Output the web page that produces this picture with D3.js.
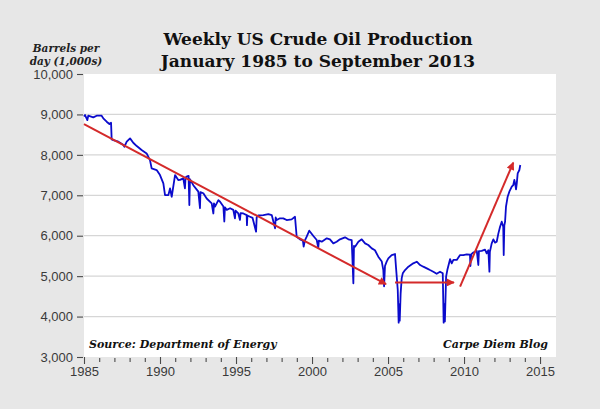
<!DOCTYPE html>
<html>
<head>
<meta charset="utf-8">
<script src="https://cdn.jsdelivr.net/npm/d3@7"></script>
<style>
	body { margin: 0; background: #e7e7e7; }
	svg { display: block; }
</style>
</head>
<body>
<div id="vis"></div>
<script>
const width = 600;
const height = 409;

// weekly production, thousand barrels per day
const weeks = [
	1985.00, 1985.07, 1985.22, 1985.28, 1985.61, 1985.83, 1986.16, 1986.27, 1986.49, 1986.67,
	1986.78, 1986.82, 1986.93, 1987.26, 1987.37, 1987.59, 1987.66, 1987.81, 1988.03, 1988.24,
	1988.47, 1988.79, 1989.12, 1989.34, 1989.45, 1989.78, 1990.00, 1990.22, 1990.33, 1990.55,
	1990.66, 1990.77, 1990.99, 1991.20, 1991.32, 1991.53, 1991.64, 1991.68, 1991.75, 1991.88,
	1991.93, 1991.97, 1992.19, 1992.52, 1992.63, 1992.66, 1992.85, 1993.07, 1993.40, 1993.51,
	1993.55, 1993.62, 1993.84, 1993.95, 1994.17, 1994.23, 1994.27, 1994.39, 1994.61, 1994.82,
	1994.93, 1994.97, 1995.15, 1995.26, 1995.30, 1995.48, 1995.70, 1995.72, 1995.75, 1995.92,
	1996.09, 1996.32, 1996.36, 1996.47, 1996.80, 1997.13, 1997.35, 1997.57, 1997.61, 1997.68,
	1997.89, 1998.11, 1998.33, 1998.66, 1998.88, 1998.99, 1999.21, 1999.40, 1999.45, 1999.54,
	1999.65, 1999.82, 2000.09, 2000.31, 2000.41, 2000.45, 2000.64, 2000.97, 2001.18, 2001.40,
	2001.62, 2001.84, 2002.17, 2002.39, 2002.61, 2002.72, 2002.76, 2002.83, 2003.05, 2003.27,
	2003.49, 2003.70, 2003.93, 2004.14, 2004.36, 2004.59, 2004.69, 2004.74, 2004.80, 2004.91,
	2005.02, 2005.24, 2005.46, 2005.53, 2005.64, 2005.70, 2005.74, 2005.77, 2005.83, 2005.90,
	2005.97, 2006.12, 2006.34, 2006.66, 2006.89, 2007.11, 2007.32, 2007.55, 2007.76, 2007.98,
	2008.20, 2008.42, 2008.60, 2008.66, 2008.70, 2008.74, 2008.82, 2008.90, 2009.08, 2009.19,
	2009.30, 2009.52, 2009.74, 2009.95, 2010.18, 2010.39, 2010.42, 2010.47, 2010.61, 2010.84,
	2010.94, 2010.98, 2011.16, 2011.38, 2011.49, 2011.60, 2011.67, 2011.70, 2011.82, 2011.93,
	2012.04, 2012.15, 2012.26, 2012.37, 2012.48, 2012.58, 2012.61, 2012.65, 2012.70, 2012.76,
	2012.87, 2012.98, 2013.14, 2013.24, 2013.31, 2013.38, 2013.42, 2013.47, 2013.53, 2013.64,
	2013.70
];
const production = [
	8950, 8985, 8860, 8968, 8927, 8968, 8968, 8902, 8820, 8762,
	8795, 8383, 8366, 8325, 8300, 8243, 8201, 8325, 8407, 8300,
	8218, 8119, 8036, 7871, 7665, 7624, 7500, 7294, 7005, 7005,
	7170, 6964, 7500, 7378, 7380, 7419, 7170, 7440, 7460, 7480,
	6760, 7400, 7250, 7090, 6680, 7080, 7050, 6920, 6800, 6550,
	6800, 6720, 6880, 6840, 6720, 6350, 6700, 6640, 6680, 6640,
	6430, 6620, 6550, 6390, 6560, 6550, 6510, 6260, 6500, 6470,
	6440, 6100, 6460, 6500, 6510, 6536, 6512, 6183, 6450, 6388,
	6430, 6430, 6388, 6405, 6470, 5975, 5910, 5880, 5730, 5890,
	5975, 6124, 5992, 5893, 5700, 5880, 5852, 5935, 5910, 5811,
	5852, 5910, 5960, 5910, 5893, 4822, 5750, 5728, 5852, 5910,
	5811, 5770, 5687, 5640, 5481, 5360, 5151, 4750, 5250, 5360,
	5440, 5522, 5547, 5193, 4657, 3850, 4300, 3900, 4575, 4950,
	5069, 5151, 5234, 5317, 5357, 5275, 5234, 5193, 5151, 5110,
	5060, 5110, 5069, 3850, 4300, 3880, 4987, 5151, 5420, 5317,
	5400, 5400, 5522, 5520, 5540, 5530, 5250, 5540, 5585, 5625,
	5275, 5620, 5625, 5655, 5564, 5640, 5110, 5600, 5811, 5910,
	5830, 5852, 6058, 6220, 6347, 6223, 5522, 6250, 6347, 6718,
	6965, 7089, 7213, 7254, 7378, 7254, 7147, 7295, 7543, 7625,
	7749
];

// red trend arrows: [start year, start value, end year, end value]
const trendArrows = [
	[1985.00, 8760, 2004.87, 4800],
	[2005.46, 4845, 2009.34, 4845],
	[2009.74, 4740, 2013.24, 7810]
];

const yTicks = [3000, 4000, 5000, 6000, 7000, 8000, 9000, 10000];
const yGrid = [4000, 5000, 6000, 7000, 8000, 9000];
const xMajorTicks = [1985, 1990, 1995, 2000, 2005, 2010, 2015];
const xMinorTicks = d3.range(1986, 2016).filter(y => y % 5 != 0);

const titleLines = ["Weekly US Crude Oil Production", "January 1985 to September 2013"];
const unitLines = ["Barrels per", "day (1,000s)"];

const x = d3.scaleLinear()
	.domain([1985, 2016.05])
	.range([84, 556]);

const y = d3.scaleLinear()
	.domain([3000, 10000])
	.range([357, 74]);

const svg = d3.select("div#vis")
	.append("svg")
		.attr("width", width)
		.attr("height", height);

svg.append("rect")
	.attr("width", width)
	.attr("height", height)
	.attr("fill", "#e7e7e7");

svg.append("rect")
	.attr("x", x.range()[0])
	.attr("y", y.range()[1])
	.attr("width", x.range()[1] - x.range()[0])
	.attr("height", y.range()[0] - y.range()[1])
	.attr("fill", "white");

svg.selectAll("line.grid")
	.data(yGrid)
	.enter()
	.append("line")
		.classed("grid", true)
		.attr("x1", x.range()[0])
		.attr("x2", x.range()[1])
		.attr("y1", d => y(d))
		.attr("y2", d => y(d))
		.attr("stroke", "#d6d6d6")
		.attr("stroke-width", 1.2);

//axes
const yAxis = svg.append("g")
	.attr("transform", `translate(${x.range()[0] - 1},0)`)
	.call(d3.axisLeft(y)
		.tickValues(yTicks)
		.tickSize(6)
		.tickPadding(4)
		.tickFormat(d3.format(",")));

const xMinor = svg.append("g")
	.attr("transform", `translate(0,${y.range()[0] + 1})`)
	.call(d3.axisBottom(x)
		.tickValues(xMinorTicks)
		.tickSize(4)
		.tickFormat(""));

const xAxis = svg.append("g")
	.attr("transform", `translate(0,${y.range()[0]})`)
	.call(d3.axisBottom(x)
		.tickValues(xMajorTicks)
		.tickSize(7)
		.tickPadding(3)
		.tickFormat(d3.format("d")));

[yAxis, xMinor, xAxis].forEach(g => {
	g.select(".domain").remove();
	g.selectAll("line").attr("stroke", "#4a4a4a").attr("stroke-width", 1.1);
	g.selectAll("text")
		.attr("fill", "#3a3a3a")
		.style("font-family", "'Liberation Sans', Arial, sans-serif")
		.style("font-size", "13px");
});

//production line
const line = d3.line()
	.x(i => x(weeks[i]))
	.y(i => y(production[i]));

svg.append("path")
	.datum(d3.range(weeks.length))
	.attr("d", line)
	.attr("fill", "none")
	.attr("stroke", "#0b0bcc")
	.attr("stroke-width", 1.8)
	.attr("stroke-linejoin", "round");

//trend arrows
svg.append("defs")
	.append("marker")
		.attr("id", "head")
		.attr("viewBox", "0 0 10 10")
		.attr("refX", 9)
		.attr("refY", 5)
		.attr("markerWidth", 4.5)
		.attr("markerHeight", 4)
		.attr("orient", "auto")
		.attr("markerUnits", "strokeWidth")
		.append("path")
			.attr("d", "M0,0L10,5L0,10Z")
			.attr("fill", "#d42a2a");

svg.selectAll("line.trend")
	.data(trendArrows)
	.enter()
	.append("line")
		.classed("trend", true)
		.attr("x1", d => x(d[0]))
		.attr("y1", d => y(d[1]))
		.attr("x2", d => x(d[2]))
		.attr("y2", d => y(d[3]))
		.attr("stroke", "#d42a2a")
		.attr("stroke-width", 2)
		.attr("marker-end", "url(#head)");

//titles and notes
const serif = "'DejaVu Serif', Georgia, serif";

svg.append("g")
	.selectAll("text")
	.data(titleLines)
	.enter()
	.append("text")
		.attr("x", 318)
		.attr("y", (d, i) => 45 + i * 22)
		.attr("text-anchor", "middle")
		.style("font-family", serif)
		.style("font-weight", "bold")
		.style("font-size", "17px")
		.attr("fill", "#111")
		.text(d => d);

svg.append("g")
	.selectAll("text")
	.data(unitLines)
	.enter()
	.append("text")
		.attr("x", 66)
		.attr("y", (d, i) => 52 + i * 12.5)
		.attr("text-anchor", "middle")
		.style("font-family", serif)
		.style("font-weight", "bold")
		.style("font-style", "italic")
		.style("font-size", "10.5px")
		.attr("fill", "#222")
		.text(d => d);

svg.append("text")
	.attr("x", 89)
	.attr("y", 348)
	.style("font-family", serif)
	.style("font-weight", "bold")
	.style("font-style", "italic")
	.style("font-size", "11px")
	.attr("fill", "#111")
	.text("Source: Department of Energy");

svg.append("text")
	.attr("x", 548)
	.attr("y", 348)
	.attr("text-anchor", "end")
	.style("font-family", serif)
	.style("font-weight", "bold")
	.style("font-style", "italic")
	.style("font-size", "11px")
	.attr("fill", "#111")
	.text("Carpe Diem Blog");
</script>
</body>
</html>
